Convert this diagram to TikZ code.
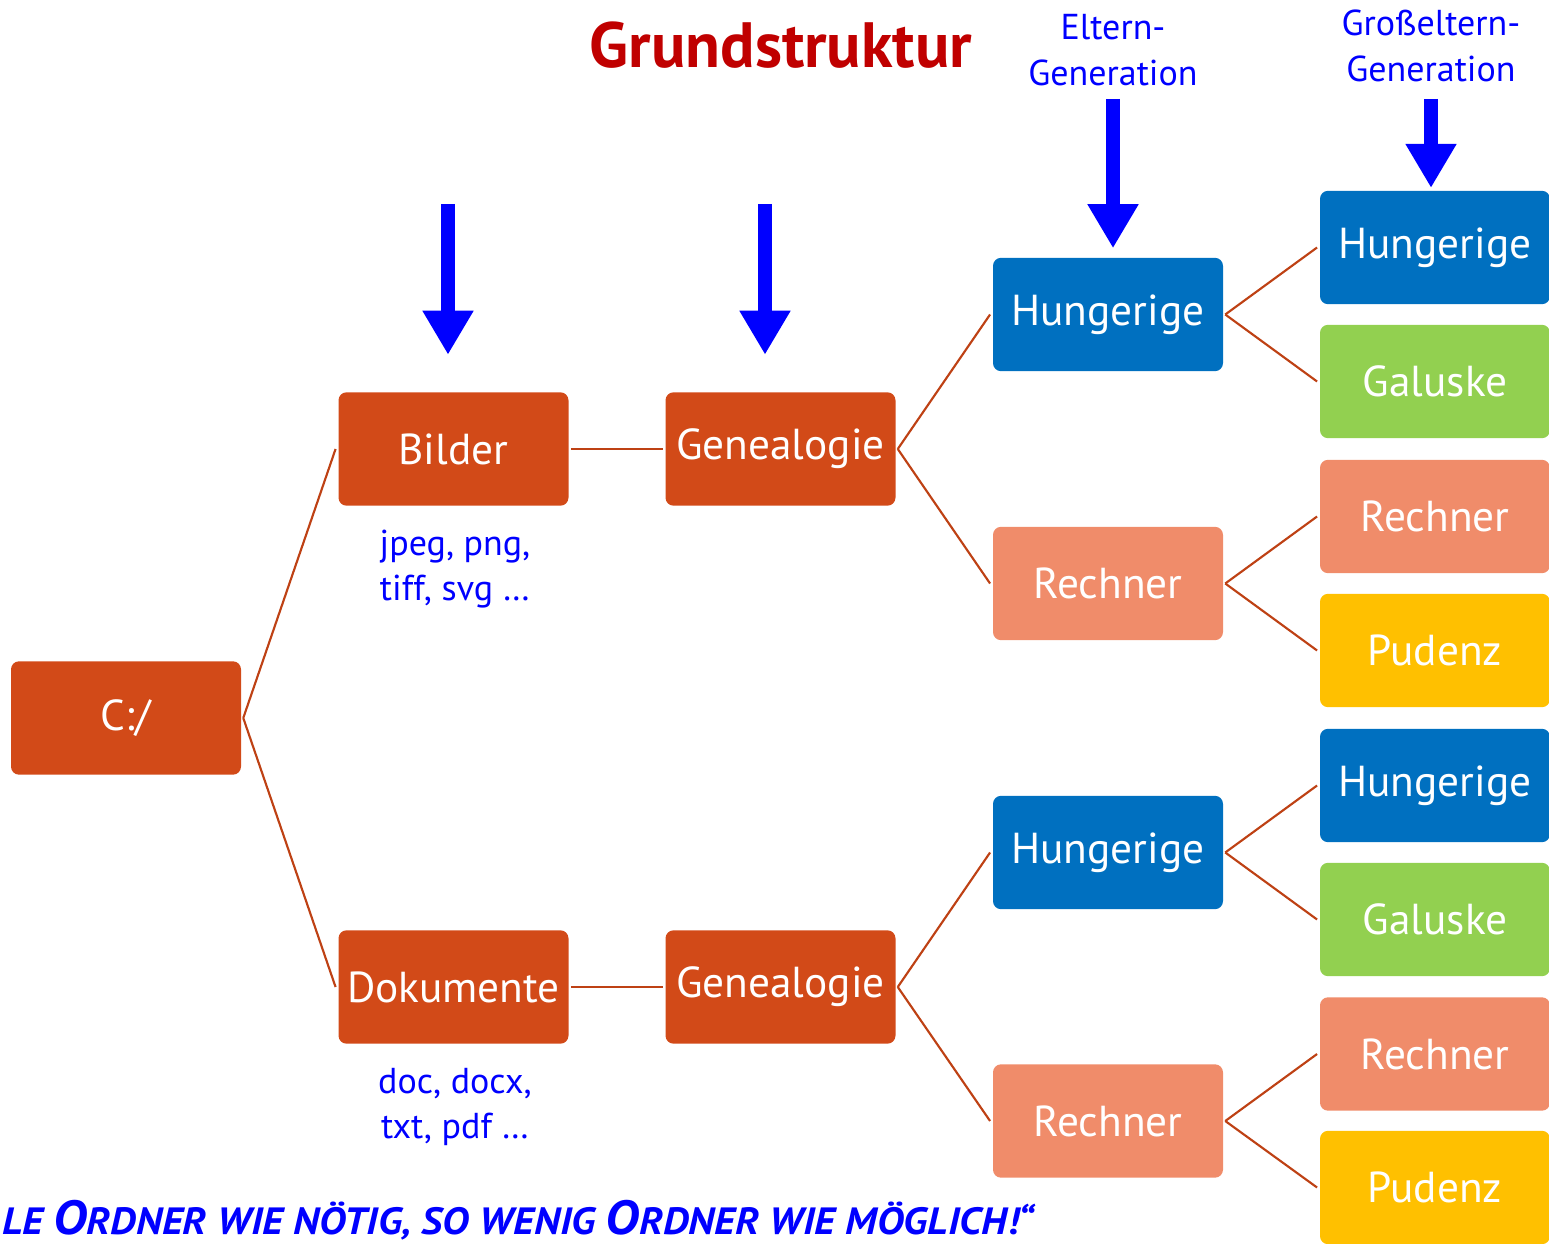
\documentclass[tikz,border=0pt]{standalone}
\usepackage{fontspec}
\usepackage{graphicx}
\setmainfont{PT Sans}
\usetikzlibrary{arrows.meta}
\definecolor{rust}{RGB}{210,74,24}
\definecolor{fblue}{RGB}{0,112,192}
\definecolor{fgreen}{RGB}{146,208,80}
\definecolor{fsalmon}{RGB}{240,140,106}
\definecolor{fyellow}{RGB}{255,192,0}
\definecolor{lnc}{RGB}{190,65,20}
\definecolor{ttlred}{RGB}{192,0,0}
\definecolor{pblue}{RGB}{0,0,255}
\newcommand\bigSC[1]{{\fontsize{36}{38}\selectfont #1}}
\newcommand\smSC[1]{{\fontsize{28.5}{30}\selectfont #1}}
\begin{document}
\begin{tikzpicture}[x=0.75pt,y=-0.75pt,
 box/.style={rounded corners=6pt, minimum width=172.5pt, minimum height=85pt, inner sep=0pt, text=white, font=\fontsize{32.5}{36}\selectfont},
 conn/.style={draw=lnc, line width=1.6pt},
 downarrow/.style={draw=pblue, line width=10.5pt, -{Triangle[width=36pt,length=33pt]}},
 lab/.style={text=pblue, font=\fontsize{27}{34}\selectfont, align=center, inner sep=0pt}]
\useasboundingbox (0,0) rectangle (1549,1244);
\clip (0,0) rectangle (1549,1244);
% title
\node[text=ttlred, font=\bfseries\fontsize{48}{52}\selectfont] (title) at (781,45) {Grundstruktur};
\node[lab] (elt) at (1113,50) {Eltern-\\Generation};
\node[lab] (gel) at (1431,46) {Großeltern-\\Generation};
% boxes
\node[box, fill=rust] (c) at (126,718) {C:/};
\node[box, fill=rust] (bi) at (453.5,449) {Bilder};
\node[box, fill=rust] (g1) at (780.5,449) {Genealogie};
\node[box, fill=rust] (do) at (453.5,987) {Dokumente};
\node[box, fill=rust] (g2) at (780.5,987) {Genealogie};
\node[box, fill=fblue] (h1) at (1108,314.5) {Hungerige};
\node[box, fill=fsalmon] (r1) at (1108,583.5) {Rechner};
\node[box, fill=fblue] (h2) at (1108,852.5) {Hungerige};
\node[box, fill=fsalmon] (r2) at (1108,1121) {Rechner};
\node[box, fill=fblue] (a1) at (1435,247.5) {Hungerige};
\node[box, fill=fgreen] (a2) at (1435,381.5) {Galuske};
\node[box, fill=fsalmon] (a3) at (1435,516.5) {Rechner};
\node[box, fill=fyellow] (a4) at (1435,650.5) {Pudenz};
\node[box, fill=fblue] (b1) at (1435,785.5) {Hungerige};
\node[box, fill=fgreen] (b2) at (1435,919.5) {Galuske};
\node[box, fill=fsalmon] (b3) at (1435,1054) {Rechner};
\node[box, fill=fyellow] (b4) at (1435,1187.5) {Pudenz};
% labels
\node[lab] (l1) at (455,569) {jpeg, png,\\tiff, svg \dots};
\node[lab] (l2) at (455,1107) {doc, docx,\\txt, pdf \dots};
% connectors
\draw[conn] ([xshift=1.5pt]c.east) -- ([xshift=-2pt]bi.west);
\draw[conn] ([xshift=1.5pt]c.east) -- ([xshift=-2pt]do.west);
\draw[conn] ([xshift=1.5pt]bi.east) -- ([xshift=-2pt]g1.west);
\draw[conn] ([xshift=1.5pt]do.east) -- ([xshift=-2pt]g2.west);
\foreach \p/\q in {g1/h1,g1/r1,g2/h2,g2/r2,h1/a1,h1/a2,r1/a3,r1/a4,h2/b1,h2/b2,r2/b3,r2/b4}
  \draw[conn] ([xshift=1.5pt]\p.east) -- ([xshift=-2pt]\q.west);
% blue arrows
\coordinate (s1) at (448,204);
\coordinate (s2) at (765,204);
\coordinate (s3) at (1113,99);
\coordinate (s4) at (1431,99);
\draw[downarrow] (s1) -- ([yshift=28pt]bi.north -| s1);
\draw[downarrow] (s2) -- ([yshift=28pt]g1.north -| s2);
\draw[downarrow] (s3) -- ([yshift=7pt]h1.north -| s3);
\draw[downarrow] (s4) -- ([yshift=2pt]a1.north -| s4);
% motto
\node[anchor=base west, text=pblue, font=\bfseries\itshape, inner sep=0pt] (motto) at (2,1234)
 {\scalebox{1.08}[1]{\smSC{LE }\bigSC{O}\smSC{RDNER WIE NÖTIG, SO WENIG }\bigSC{O}\smSC{RDNER WIE MÖGLICH!“}}};
\end{tikzpicture}
\end{document}
